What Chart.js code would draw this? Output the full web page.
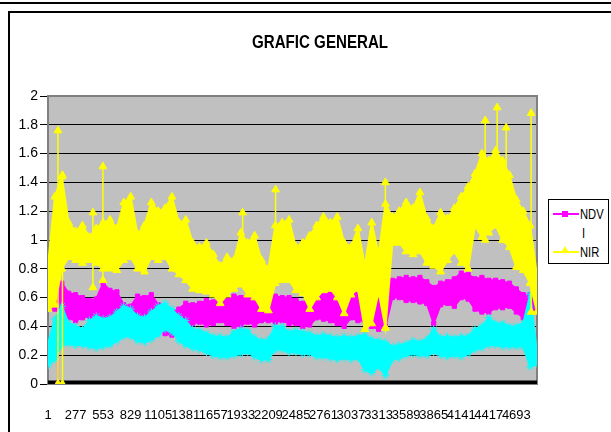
<!DOCTYPE html>
<html>
<head>
<meta charset="utf-8">
<script src="https://cdn.jsdelivr.net/npm/chart.js@4.4.1/dist/chart.umd.min.js"></script>
<style>
  body { margin: 0; background: #fff; }
  #wrap { position: relative; width: 611px; height: 432px; overflow: hidden; font-family: 'Liberation Sans', Arial, sans-serif; }
  #topline { position: absolute; left: 0; top: 2px; width: 611px; height: 2px; background: #000; }
  #frame { position: absolute; left: 8px; top: 11px; width: 640px; height: 460px; border-left: 2px solid #000; border-top: 2px solid #000; }
  canvas { position: absolute; left: 0; top: 0; }
  #title { position: absolute; left: 170px; width: 300px; top: 31px; height: 22px; line-height: 22px; text-align: center;
           font-size: 18px; font-weight: bold; color: #000; transform: scaleX(0.84); }
  #legend { position: absolute; left: 548px; top: 199px; width: 59px; height: 63px; border: 1px solid #000; background: #fff;
            font-size: 14px; color: #000; }
  #legend .ln { position: absolute; left: 4px; width: 26px; height: 2px; }
  #legend .sq { position: absolute; left: 13px; width: 6px; height: 6px; background: #ff00ff; }
  #legend .tri { position: absolute; left: 12px; width: 0; height: 0; border-left: 4px solid transparent; border-right: 4px solid transparent; border-bottom: 7px solid #ffff00; }
  #legend .tx { position: absolute; left: 31px; line-height: 16px; transform: scaleX(0.8); transform-origin: left center; }
</style>
</head>
<body>
<div id="wrap">
  <div id="topline"></div>
  <div id="frame"></div>
  <canvas id="c" width="611" height="432"></canvas>
  <div id="title">GRAFIC GENERAL</div>
  <div id="legend">
    <div class="ln" style="top:13px;background:#ff00ff"></div>
    <div class="sq" style="top:11px"></div>
    <div class="tx" style="top:6px">NDV</div>
    <div class="tx" style="top:25px;left:33px">I</div>
    <div class="ln" style="top:51px;background:#ffff00"></div>
    <div class="tri" style="top:46px"></div>
    <div class="tx" style="top:44px">NIR</div>
  </div>
</div>
<script>
const xIdx = [1, 70, 139, 208, 277, 346, 415, 484, 553, 622, 691, 760,
  829, 898, 967, 1036, 1105, 1174, 1243, 1312, 1381, 1450, 1519, 1588,
  1657, 1726, 1795, 1864, 1933, 2002, 2071, 2140, 2209, 2278, 2347, 2416,
  2485, 2554, 2623, 2692, 2761, 2830, 2899, 2968, 3037, 3106, 3175, 3244,
  3313, 3382, 3451, 3520, 3589, 3658, 3727, 3796, 3865, 3934, 4003, 4072,
  4141, 4210, 4279, 4348, 4417, 4486, 4555, 4624, 4693, 4762, 4831, 4900];

const xTicks = [1, 277, 553, 829, 1105, 1381, 1657, 1933, 2209, 2485, 2761, 3037, 3313, 3589, 3865, 4141, 4417, 4693];
const yTicks = [0, 0.2, 0.4, 0.6, 0.8, 1, 1.2, 1.4, 1.6, 1.8, 2];

// NIR (yellow) upper / lower edge of the noisy band
const nirHi = [0.82, 1.30, 1.44, 1.12, 1.06, 1.10, 1.02, 1.08, 1.12, 1.14, 1.08, 1.26,
  1.30, 1.04, 1.10, 1.26, 1.20, 1.22, 1.30, 1.12, 1.14, 0.98, 0.95, 0.98,
  0.90, 0.82, 0.88, 0.86, 1.05, 0.98, 1.03, 0.86, 0.80, 1.10, 1.12, 1.14,
  0.95, 0.98, 1.03, 1.10, 1.16, 1.12, 1.16, 0.98, 0.95, 1.08, 0.82, 1.12,
  0.90, 1.25, 1.16, 1.20, 1.26, 1.22, 1.33, 1.15, 1.08, 1.19, 1.15, 1.22,
  1.30, 1.37, 1.46, 1.60, 1.55, 1.62, 1.55, 1.45, 1.28, 1.20, 1.10, 0.75];
const nirLo = [0.52, 0.55, 0.80, 0.88, 0.86, 0.84, 0.86, 0.84, 0.80, 0.80, 0.79, 0.86,
  0.88, 0.80, 0.78, 0.88, 0.86, 0.88, 0.80, 0.76, 0.72, 0.66, 0.65, 0.64,
  0.62, 0.56, 0.62, 0.66, 0.69, 0.62, 0.60, 0.52, 0.51, 0.70, 0.72, 0.72,
  0.65, 0.63, 0.52, 0.60, 0.65, 0.66, 0.60, 0.49, 0.62, 0.66, 0.38, 0.42,
  0.64, 0.39, 0.98, 0.98, 0.92, 0.90, 0.92, 0.84, 0.82, 0.78, 0.86, 0.92,
  0.84, 0.80, 1.10, 1.02, 1.05, 1.10, 1.00, 0.95, 0.81, 0.79, 0.70, 0.50];

// NDVI (magenta)
const ndviHi = [0.66, 0.74, 0.70, 0.63, 0.62, 0.60, 0.58, 0.59, 0.70, 0.65, 0.64, 0.55,
  0.54, 0.61, 0.60, 0.62, 0.55, 0.53, 0.50, 0.52, 0.56, 0.55, 0.56, 0.58,
  0.57, 0.58, 0.58, 0.61, 0.60, 0.62, 0.60, 0.57, 0.61, 0.61, 0.60, 0.60,
  0.58, 0.56, 0.56, 0.58, 0.63, 0.63, 0.60, 0.58, 0.64, 0.65, 0.65, 0.66,
  0.62, 0.58, 0.72, 0.73, 0.74, 0.73, 0.74, 0.71, 0.67, 0.70, 0.71, 0.73,
  0.77, 0.76, 0.73, 0.74, 0.72, 0.72, 0.71, 0.70, 0.66, 0.62, 0.62, 0.60];
const ndviLo = [0.55, 0.52, 0.51, 0.46, 0.44, 0.46, 0.47, 0.46, 0.42, 0.40, 0.42, 0.38,
  0.40, 0.44, 0.46, 0.44, 0.38, 0.35, 0.34, 0.42, 0.43, 0.42, 0.43, 0.41,
  0.42, 0.44, 0.42, 0.40, 0.41, 0.43, 0.41, 0.44, 0.44, 0.43, 0.44, 0.42,
  0.42, 0.40, 0.41, 0.46, 0.45, 0.44, 0.42, 0.40, 0.46, 0.44, 0.44, 0.40,
  0.38, 0.40, 0.60, 0.60, 0.58, 0.58, 0.57, 0.56, 0.42, 0.55, 0.56, 0.54,
  0.60, 0.59, 0.52, 0.50, 0.50, 0.53, 0.53, 0.54, 0.50, 0.46, 0.47, 0.50];

// third series (cyan), not named in the legend
const cyanHi = [0.28, 0.45, 0.54, 0.42, 0.40, 0.38, 0.44, 0.47, 0.45, 0.46, 0.50, 0.54,
  0.52, 0.47, 0.46, 0.50, 0.54, 0.56, 0.52, 0.47, 0.44, 0.38, 0.37, 0.35,
  0.33, 0.33, 0.32, 0.36, 0.38, 0.37, 0.32, 0.30, 0.31, 0.40, 0.40, 0.36,
  0.37, 0.36, 0.35, 0.33, 0.34, 0.33, 0.32, 0.33, 0.32, 0.33, 0.34, 0.31,
  0.30, 0.29, 0.26, 0.27, 0.28, 0.30, 0.29, 0.31, 0.38, 0.32, 0.33, 0.32,
  0.33, 0.33, 0.38, 0.40, 0.46, 0.42, 0.42, 0.40, 0.40, 0.42, 0.62, 0.22];
const cyanLo = [0.13, 0.17, 0.27, 0.28, 0.27, 0.27, 0.26, 0.25, 0.26, 0.27, 0.30, 0.33,
  0.33, 0.30, 0.29, 0.31, 0.34, 0.38, 0.36, 0.30, 0.27, 0.25, 0.24, 0.22,
  0.20, 0.19, 0.19, 0.20, 0.21, 0.22, 0.19, 0.17, 0.17, 0.24, 0.24, 0.22,
  0.22, 0.21, 0.21, 0.19, 0.19, 0.18, 0.17, 0.18, 0.17, 0.18, 0.10, 0.08,
  0.12, 0.06, 0.17, 0.18, 0.20, 0.21, 0.20, 0.20, 0.22, 0.20, 0.19, 0.20,
  0.19, 0.21, 0.24, 0.25, 0.27, 0.27, 0.26, 0.26, 0.26, 0.26, 0.12, 0.14];

// isolated NIR spikes: position, bottom, top
const nirSpikeX = [101, 146, 451, 551, 1951, 2281, 3381, 4381, 4501, 4591, 4841];
const nirSpikeLo = [0, 0, 0.67, 0.72, 0.88, 0.72, 0.39, 1.00, 1.10, 1.00, 0.50];
const nirSpikeHi = [1.76, 1.45, 1.19, 1.51, 1.19, 1.35, 1.40, 1.83, 1.92, 1.78, 1.88];

// NDVI drop to zero near the start
const ndviSpikeX = [101];
const ndviSpikeLo = [0];
const ndviSpikeHi = [0.62];

const FONT = "'Liberation Sans', Arial, sans-serif";

function pts(ys) {
  return xIdx.map((x, i) => ({ x: x, y: ys[i] }));
}
function spikes(xs, lo, hi) {
  const out = [];
  xs.forEach((x, i) => {
    out.push({ x: x, y: lo[i] }, { x: x, y: hi[i] }, { x: x, y: null });
  });
  return out;
}
function band(label, data, color, style, radius, fill, order) {
  return {
    label: label, data: data, fill: fill, order: order,
    borderColor: color, backgroundColor: color, borderWidth: 2,
    pointStyle: style, pointRadius: radius, pointBorderWidth: 1,
    pointBackgroundColor: color, pointBorderColor: color, tension: 0
  };
}

const plotBg = {
  id: 'plotBg',
  beforeDraw(chart) {
    const a = chart.chartArea, ctx = chart.ctx;
    ctx.save();
    ctx.fillStyle = '#c0c0c0';
    ctx.fillRect(a.left, a.top, a.right - a.left, a.bottom - a.top);
    ctx.restore();
  },
  beforeDatasetsDraw(chart) {
    const a = chart.chartArea, ctx = chart.ctx;
    ctx.save();
    ctx.strokeStyle = '#808080';
    ctx.lineWidth = 2;
    ctx.strokeRect(a.left, a.top, a.right - a.left, a.bottom - a.top);
    ctx.restore();
  }
};

const zeroLine = xIdx.map(x => ({ x: x, y: 0 }));

new Chart(document.getElementById('c'), {
  type: 'line',
  data: {
    datasets: [
      band('NDVI', pts(ndviHi), '#ff00ff', 'rect', 3, '+1', 5),
      band('NDVI_lo', pts(ndviLo), '#ff00ff', 'rect', 3, false, 5),
      band('S3', pts(cyanHi), '#00ffff', 'star', 4, '+1', 3),
      band('S3_lo', pts(cyanLo), '#00ffff', 'star', 4, false, 3),
      band('NIR', pts(nirHi), '#ffff00', 'triangle', 4.5, '+1', 1),
      band('NIR_lo', pts(nirLo), '#ffff00', 'triangle', 4.5, false, 1),
      Object.assign(band('NIR_spk', spikes(nirSpikeX, nirSpikeLo, nirSpikeHi), '#ffff00', 'triangle', 4.5, false, 0), { borderWidth: 1.5 }),
      Object.assign(band('NDVI_spk', spikes(ndviSpikeX, ndviSpikeLo, ndviSpikeHi), '#ff00ff', 'rect', 3, false, 4), { borderWidth: 1.5 }),
      { label: 'zero', data: zeroLine, borderColor: '#000', borderWidth: 7, pointRadius: 0, fill: false, order: 9 }
    ]
  },
  options: {
    responsive: false,
    animation: false,
    devicePixelRatio: 1,
    layout: { padding: { left: 0, right: 74, top: 96, bottom: 0 } },
    plugins: {
      legend: { display: false },
      tooltip: { enabled: false },
      title: { display: false }
    },
    scales: {
      x: {
        type: 'linear', min: 1, max: 4900,
        afterBuildTicks: s => { s.ticks = xTicks.map(v => ({ value: v })); },
        afterFit: s => { s.height = 48; },
        grid: { display: false, drawTicks: false },
        border: { display: false },
        ticks: { autoSkip: false, maxRotation: 0, padding: 24, color: '#000',
                 font: { family: FONT, size: 13 }, callback: v => String(v) }
      },
      y: {
        min: 0, max: 2,
        afterBuildTicks: s => { s.ticks = yTicks.map(v => ({ value: v })); },
        afterFit: s => { s.width = 48; },
        grid: { color: c => (c.tick && c.tick.value === 2 ? '#808080' : '#000'), tickColor: '#000', tickLength: 8, lineWidth: 1 },
        border: { display: false },
        ticks: { padding: 2, color: '#000', font: { family: FONT, size: 14 },
                 callback: v => String(v) }
      }
    }
  },
  plugins: [plotBg]
});
</script>
</body>
</html>
